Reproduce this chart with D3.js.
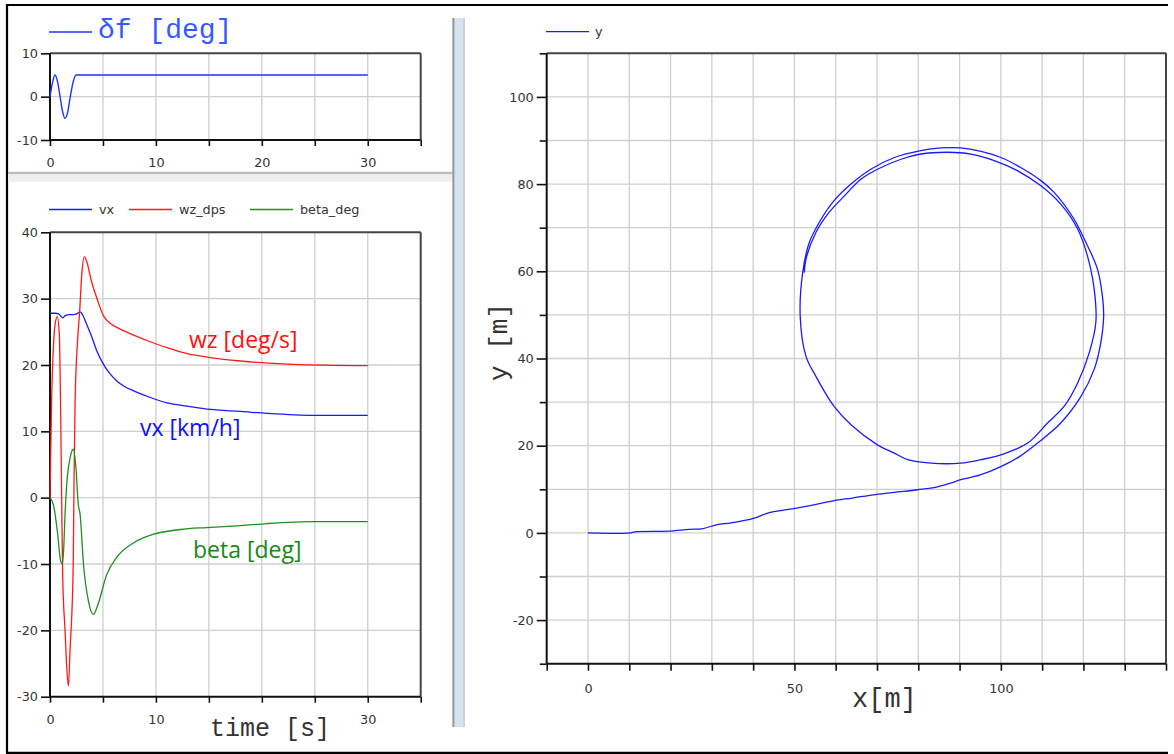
<!DOCTYPE html>
<html><head><meta charset="utf-8">
<script src="https://cdn.jsdelivr.net/npm/d3@7"></script>
<style>
html,body{margin:0;padding:0;background:#fff;}
svg{display:block;}
</style></head>
<body>
<svg id="c" width="1174" height="754"></svg>
<script>
// ---------- data ----------
const deltaT = [0, 0.25, 0.47, 0.7, 0.95, 1.2, 1.42, 1.65, 1.9, 2.2, 2.46, 30];
const deltaV = [0, 3.4, 5, 3.6, 0, -3.6, -5, -3.8, -0.2, 3.5, 5, 5];

const vxT = [0, 0.5, 0.8, 1.0, 1.2, 1.4, 1.8, 2.2, 2.5, 2.85, 3.1, 3.47, 4.0, 4.42, 5.05, 5.6, 6.3, 7.0, 7.9, 9.47, 11.05, 12.95, 15.16, 18, 20.5, 24.9, 30];
const vxV = [27.8, 27.8, 27.7, 27.4, 27.1, 27.4, 27.6, 27.6, 27.7, 28.0, 27.5, 26.1, 24.0, 22.1, 20.1, 18.8, 17.6, 16.8, 16.1, 15.1, 14.3, 13.8, 13.3, 13.0, 12.7, 12.4, 12.4];

const wzT = [0, 0.05, 0.17, 0.3, 0.47, 0.69, 0.88, 1.0, 1.1, 1.2, 1.42, 1.58, 1.74, 1.9, 2.06, 2.2, 2.27, 2.37, 2.6, 2.8, 3.0, 3.25, 3.5, 3.9, 4.42, 5.05, 5.68, 6.63, 7.9, 9.47, 11.05, 12.95, 14.8, 18, 23, 30];
const wzV = [0, 5, 16, 22, 26, 27.3, 24.6, 13.6, 0, -12, -20, -25.6, -28.4, -22.6, -17.6, -9, 2.5, 14.6, 23.6, 28.1, 33.7, 36.3, 35.4, 32.7, 30.1, 27.4, 26.3, 25.4, 24.5, 23.5, 22.6, 21.7, 21.2, 20.6, 20.1, 19.9];

const betaT = [0, 0.38, 0.69, 1.0, 1.16, 1.3, 1.42, 1.58, 1.9, 2.2, 2.45, 2.67, 2.84, 3.16, 3.63, 4.1, 4.55, 5.35, 6.3, 7.9, 9.8, 12.3, 14.8, 18, 20.5, 24.9, 30];
const betaV = [0, -1.5, -5, -9.5, -10, -7.5, -2.5, 2, 6, 7.3, 4.5, -1, -2.5, -10, -15.6, -17.6, -16, -11.6, -9, -6.8, -5.5, -4.8, -4.5, -4.2, -3.9, -3.6, -3.6];

const trajX = [0, 10.3, 11.4, 19.4, 24.5, 27.9, 31.3, 34.7, 40.3, 43.7, 50.5, 55, 59.6, 64, 69.7, 74.2, 79.9, 84.4, 87.8, 90.3, 95, 100, 104.5, 108.9, 114.5, 119.4, 122.6, 124.2, 124.9, 124.6, 123.4, 120.2, 117.7, 112.9, 109.7, 104.8, 100, 95.2, 90.3, 85.5, 80.6, 74.2, 68.5, 63.7, 59.6, 56, 53.6, 52, 51.4, 52.8, 55.2, 59.6, 63.7, 70.1, 74.2, 77.4, 83.1, 90.3, 95.2, 100, 106.5, 111.3, 115.3, 118.6, 121.4, 123, 122.8, 121.4, 118.6, 114.5, 109.7, 104, 98.4, 92.7, 87.1, 80.6, 75.8, 70.1, 66.1, 62.1, 58.4, 55.2, 52.8, 52.4];
const trajY = [0, 0, 0.25, 0.4, 0.8, 1.0, 1.9, 2.3, 3.4, 4.6, 5.7, 6.5, 7.4, 8.0, 8.8, 9.3, 9.9, 10.5, 11.4, 12.2, 13.3, 15.2, 17.5, 20.6, 25.2, 31.3, 37.5, 43.6, 49.7, 54.3, 60.5, 67.4, 72, 78.1, 80.8, 83.8, 86.1, 87.5, 88.3, 88.3, 87.7, 86.1, 83.4, 80, 76.2, 71.2, 66.6, 59.7, 49.7, 40.5, 35.9, 29, 24.8, 20.2, 18.3, 16.8, 16, 16, 16.8, 17.9, 20.6, 25.2, 29, 34.4, 41.3, 48.2, 54.3, 62, 69.7, 75.4, 79.6, 83.1, 85.4, 86.9, 87.3, 86.9, 85.7, 83.4, 81.1, 77.3, 73.5, 68.9, 62.8, 59.7];

const timeTicks = [0, 5, 10, 15, 20, 25, 30, 35];
const timeTickLabelsTop = [0, 10, 20, 30];
const timeTickLabelsLow = [0, 10, 30];   // "20" is hidden behind the axis title in the reference
const deltaTicks = [-10, 0, 10];
const lowerTicks = [-30, -20, -10, 0, 10, 20, 30, 40];
const xyXTicks = [-10, 0, 10, 20, 30, 40, 50, 60, 70, 80, 90, 100, 110, 120, 130, 140];
const xyXTickLabels = [0, 50, 100];
const xyYTicks = [-30, -20, -10, 0, 10, 20, 30, 40, 50, 60, 70, 80, 90, 100, 110];
const xyYTickLabels = [-20, 0, 20, 40, 60, 80, 100];

const legendLower = ["vx", "wz_dps", "beta_deg"];
const colors = {vx: "#1a1aff", wz: "#ff1a1a", beta: "#1f8f1f", delta: "#2233ff"};

// ---------- drawing ----------
const svg = d3.select("#c");
const TICKFONT = "'DejaVu Sans', 'Liberation Sans', Arial, sans-serif";
const MONO = "'Liberation Mono', 'DejaVu Sans Mono', monospace";
const TFS = "12.8px";

svg.append("rect").attr("x",0).attr("y",0).attr("width",1174).attr("height",754).attr("fill","#fff");
svg.append("line").attr("x1",6).attr("x2",1168).attr("y1",5).attr("y2",5).attr("stroke","#000").attr("stroke-width",2.2);
svg.append("line").attr("x1",7).attr("x2",7).attr("y1",4).attr("y2",753.5).attr("stroke","#000").attr("stroke-width",2.2);
svg.append("line").attr("x1",6).attr("x2",1168).attr("y1",752.8).attr("y2",752.8).attr("stroke","#000").attr("stroke-width",2.2);

svg.append("rect").attr("x",8).attr("y",171.8).attr("width",444.5).attr("height",2.6).attr("fill","#bdbdbd");
svg.append("rect").attr("x",8).attr("y",174.4).attr("width",444.5).attr("height",7.4).attr("fill","#efefef");
svg.append("rect").attr("x",452.3).attr("y",18).attr("width",2.4).attr("height",709).attr("fill","#9a9a9a");
svg.append("rect").attr("x",454.7).attr("y",18).attr("width",8).attr("height",709).attr("fill","#d5e3f1");
svg.append("rect").attr("x",462.7).attr("y",18).attr("width",2.3).attr("height",709).attr("fill","#c9d3dc");

function panel(opts){
  const g = svg.append("g");
  const x = d3.scaleLinear().domain(opts.xDomain).range(opts.xRange);
  const y = d3.scaleLinear().domain(opts.yDomain).range(opts.yRange);
  const [x0,x1] = opts.xRange, [y0,y1] = opts.yRange;
  g.append("g").selectAll("line").data(opts.xTicks.filter(v=>v>opts.xDomain[0] && v<opts.xDomain[1]))
    .join("line").attr("x1",d=>x(d)).attr("x2",d=>x(d)).attr("y1",y1).attr("y2",y0)
    .attr("stroke","#cfcfcf").attr("stroke-width",1.3);
  g.append("g").selectAll("line").data(opts.yGrid)
    .join("line").attr("y1",d=>y(d)).attr("y2",d=>y(d)).attr("x1",x0).attr("x2",x1)
    .attr("stroke","#cfcfcf").attr("stroke-width",1.3);
  g.append("line").attr("x1",x0).attr("x2",x1).attr("y1",y1).attr("y2",y1).attr("stroke","#444").attr("stroke-width",2);
  g.append("line").attr("x1",x1).attr("x2",x1).attr("y1",y1).attr("y2",y0).attr("stroke","#444").attr("stroke-width",2);
  const xa = d3.axisBottom(x).tickValues(opts.xTicks).tickSize(opts.xTickLen).tickPadding(opts.xPad)
    .tickFormat(d => opts.xLabels.includes(d) ? String(d) : "");
  const gx = g.append("g").attr("transform",`translate(0,${y0})`).call(xa);
  const ya = d3.axisLeft(y).tickValues(opts.yTicks).tickSize(0).tickPadding(opts.yPad)
    .tickFormat(d => opts.yLabels.includes(d) ? String(d) : "");
  const gy = g.append("g").attr("transform",`translate(${x0},0)`).call(ya);
  gy.selectAll(".tick line").attr("x2", d => opts.yLabels.includes(d) ? -opts.yTickLen : -opts.yMinorLen);
  [gx, gy].forEach(a => {
    a.select(".domain").attr("stroke","#111").attr("stroke-width",2);
    a.selectAll(".tick line").attr("stroke","#111").attr("stroke-width",1.6);
    a.selectAll(".tick text").attr("fill","#333").style("font-family",TICKFONT).style("font-size",TFS);
  });
  gy.selectAll(".tick text").attr("x", -(opts.yTickLen + opts.yPad));
  gx.select(".domain").attr("d",`M${x0},0H${x1}`);
  gy.select(".domain").attr("d",`M0,${y0}V${y1}`);
  return {g,x,y};
}

function drawLine(p, xs, ys, color, w, curve){
  const pts = xs.map((v,i)=>[v, ys[i]]);
  p.g.append("path").datum(pts)
    .attr("d", d3.line().curve(curve || d3.curveLinear).x(d=>p.x(d[0])).y(d=>p.y(d[1])))
    .attr("fill","none").attr("stroke",color).attr("stroke-width",w||1.3).attr("stroke-linejoin","round");
}

const pTop = panel({xDomain:[0,35], xRange:[50,420.7], yDomain:[-10,10], yRange:[140,53.3],
  xTicks: timeTicks, xLabels: timeTickLabelsTop, yTicks: deltaTicks, yLabels: deltaTicks, yGrid:[0],
  xTickLen:6, xPad:12, yTickLen:9, yMinorLen:6, yPad:3});
drawLine(pTop, deltaT, deltaV, colors.delta, 1.4, d3.curveMonotoneX);
svg.append("line").attr("x1",49).attr("x2",92).attr("y1",32).attr("y2",32).attr("stroke",colors.delta).attr("stroke-width",1.4);
svg.append("text").attr("x",98).attr("y",38).text("δf [deg]")
  .style("font-family",MONO).style("font-size","28px").attr("fill","#3858ff");

const pLow = panel({xDomain:[0,35], xRange:[50,420.7], yDomain:[-30,40], yRange:[696.7,232.3],
  xTicks: timeTicks, xLabels: timeTickLabelsLow, yTicks: lowerTicks, yLabels: lowerTicks,
  yGrid:[-20,-10,0,10,20,30], xTickLen:6, xPad:12, yTickLen:9, yMinorLen:6, yPad:3});
drawLine(pLow, vxT, vxV, colors.vx, 1.3, d3.curveMonotoneX);
drawLine(pLow, wzT, wzV, colors.wz, 1.3, d3.curveMonotoneX);
drawLine(pLow, betaT, betaV, colors.beta, 1.3, d3.curveMonotoneX);
const legCols = [colors.vx, colors.wz, colors.beta];
const legX = [49, 129, 250];
legendLower.forEach((name,i)=>{
  svg.append("line").attr("x1",legX[i]).attr("x2",legX[i]+43).attr("y1",209.5).attr("y2",209.5).attr("stroke",legCols[i]).attr("stroke-width",1.3);
  svg.append("text").attr("x",legX[i]+50).attr("y",214).text(name)
    .style("font-family",TICKFONT).style("font-size",TFS).attr("fill","#333");
});
const ANN = "'Open Sans', 'Noto Sans', sans-serif";
svg.append("text").attr("x",189).attr("y",348).text("wz [deg/s]").style("font-family",ANN).style("font-size","23px").attr("fill","#ff1010");
svg.append("text").attr("x",140).attr("y",436).text("vx [km/h]").style("font-family",ANN).style("font-size","23px").attr("fill","#1010ff");
svg.append("text").attr("x",193).attr("y",558).text("beta [deg]").style("font-family",ANN).style("font-size","23px").attr("fill","#158a15");
svg.append("text").attr("x",210).attr("y",736).text("time [s]").style("font-family",MONO).style("font-size","25px").attr("fill","#333");

const pXY = panel({xDomain:[-10,140], xRange:[546.7,1166], yDomain:[-30,110], yRange:[663.7,53.3],
  xTicks: xyXTicks, xLabels: xyXTickLabels, yTicks: xyYTicks, yLabels: xyYTickLabels,
  yGrid:[-20,-10,0,10,20,30,40,50,60,70,80,90,100], xTickLen:7, xPad:13, yTickLen:10, yMinorLen:7, yPad:3});
drawLine(pXY, trajX, trajY, "#1a1aff", 1.3, d3.curveCatmullRom.alpha(0.5));
svg.append("line").attr("x1",546).attr("x2",589).attr("y1",31.7).attr("y2",31.7).attr("stroke","#1a1aff").attr("stroke-width",1.3);
svg.append("text").attr("x",595).attr("y",36).text("y").style("font-family",TICKFONT).style("font-size",TFS).attr("fill","#333");
svg.append("text").attr("x",852).attr("y",707).text("x[m]").style("font-family",MONO).style("font-size","27px").attr("fill","#333");
svg.append("text").attr("transform","translate(507,342) rotate(-90)").attr("text-anchor","middle").text("y [m]")
  .style("font-family",MONO).style("font-size","26px").attr("fill","#333");
</script>
</body></html>
